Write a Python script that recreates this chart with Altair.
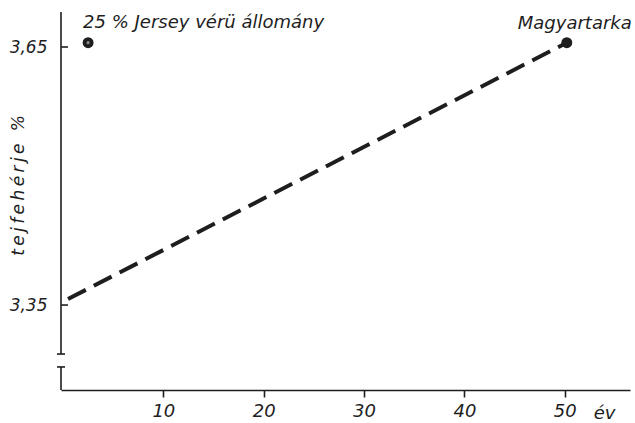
import altair as alt
import pandas as pd

# ---- data ----
x_ticks = [10, 20, 30, 40, 50]
y_ticks = [3.35, 3.65]
trend_x = [0.5, 50.2]
trend_y = [3.357, 3.655]
point_names = ["25 % Jersey vérü állomány", "Magyartarka"]
point_x = [2.5, 50.2]
point_y = [3.655, 3.655]
x_domain = [-0.2, 56.5]
y_domain = [3.2512, 3.6907]
# broken y axis: two segments and the serifs at the break
y_seg_start = [3.6907, 3.278]
y_seg_end = [3.293, 3.2512]
break_y = [3.293, 3.278]

INK = "#1e1e1e"
FONT = "DejaVu Sans"
y_title = "t\u2009e\u2009j\u2009f\u2009e\u2009h\u2009é\u2009r\u2009j\u2009e\u2009\u2009 %"

xs = alt.Scale(domain=x_domain, nice=False, zero=False)
ys = alt.Scale(domain=y_domain, nice=False, zero=False)

trend = pd.DataFrame({"x": trend_x, "y": trend_y})
pts = pd.DataFrame({"name": point_names, "x": point_x, "y": point_y})
segs = pd.DataFrame({"x": [x_domain[0]] * 2, "y": y_seg_start, "y2": y_seg_end})
brk = pd.DataFrame({"y": break_y})
yt = pd.DataFrame({"y": y_ticks})

x_axis = alt.Axis(
    values=x_ticks, grid=False, domainColor=INK, domainWidth=1.6,
    tickColor=INK, tickWidth=1.6, tickSize=7, labelFont=FONT,
    labelFontStyle="italic", labelFontSize=18, labelColor=INK,
    labelPadding=5, title="év", titleFont=FONT, titleFontStyle="italic",
    titleFontWeight="normal", titleFontSize=18, titleColor=INK,
    titleX=543, titleY=23, titleBaseline="middle", titleAlign="center",
)
y_axis = alt.Axis(
    values=y_ticks, grid=False, domain=False, ticks=False,
    labelExpr="replace(format(datum.value, '.2f'), '.', ',')",
    labelFont=FONT, labelFontStyle="italic", labelFontSize=17,
    labelColor=INK, labelPadding=14,
    title=y_title, titleFont=FONT, titleFontStyle="italic",
    titleFontWeight="normal", titleFontSize=17, titleColor=INK,
    titleX=-43, titleY=173, titleAngle=270, titleBaseline="middle",
    titleAlign="center",
)

line = alt.Chart(trend).mark_line(
    color=INK, strokeWidth=4, strokeDash=[20, 9]
).encode(
    x=alt.X("x:Q", scale=xs, axis=x_axis),
    y=alt.Y("y:Q", scale=ys, axis=y_axis),
)

axis_segs = alt.Chart(segs).mark_rule(color=INK, strokeWidth=1.6).encode(
    x=alt.X("x:Q", scale=xs), y=alt.Y("y:Q", scale=ys), y2="y2:Q"
)
serifs = alt.Chart(brk).mark_rule(color=INK, strokeWidth=1.6).encode(
    x=alt.value(-4), x2=alt.value(4), y=alt.Y("y:Q", scale=ys)
)
yticks = alt.Chart(yt).mark_rule(color=INK, strokeWidth=1.6).encode(
    x=alt.value(0), x2=alt.value(7), y=alt.Y("y:Q", scale=ys)
)

dots = alt.Chart(pts).mark_point(
    filled=True, color=INK, size=120, opacity=1
).encode(x=alt.X("x:Q", scale=xs), y=alt.Y("y:Q", scale=ys))

jersey_core = alt.Chart(pts).transform_filter(
    alt.datum.name == point_names[0]
).mark_point(filled=True, color="#8a8a8a", size=10, opacity=1).encode(
    x=alt.X("x:Q", scale=xs), y=alt.Y("y:Q", scale=ys)
)

lbl_jersey = alt.Chart(pts).transform_filter(
    alt.datum.name == point_names[0]
).mark_text(
    align="left", baseline="alphabetic", dx=-5, dy=-15, font=FONT,
    fontStyle="italic", fontSize=18, color=INK
).encode(x=alt.X("x:Q", scale=xs), y=alt.Y("y:Q", scale=ys), text="name:N")

lbl_magy = alt.Chart(pts).transform_filter(
    alt.datum.name == point_names[1]
).mark_text(
    align="center", baseline="alphabetic", dx=8, dy=-14, font=FONT,
    fontStyle="italic", fontSize=18, color=INK
).encode(x=alt.X("x:Q", scale=xs), y=alt.Y("y:Q", scale=ys), text="name:N")

chart = alt.layer(
    line, axis_segs, serifs, yticks, dots, jersey_core, lbl_jersey, lbl_magy
).properties(
    width=569, height=378,
    autosize=alt.AutoSizeParams(type="none"),
    padding={"left": 61, "top": 12, "right": 5, "bottom": 33},
    background="white",
).configure_view(stroke=None)

chart.save("out.html", embed_options={"renderer": "svg", "actions": False})
